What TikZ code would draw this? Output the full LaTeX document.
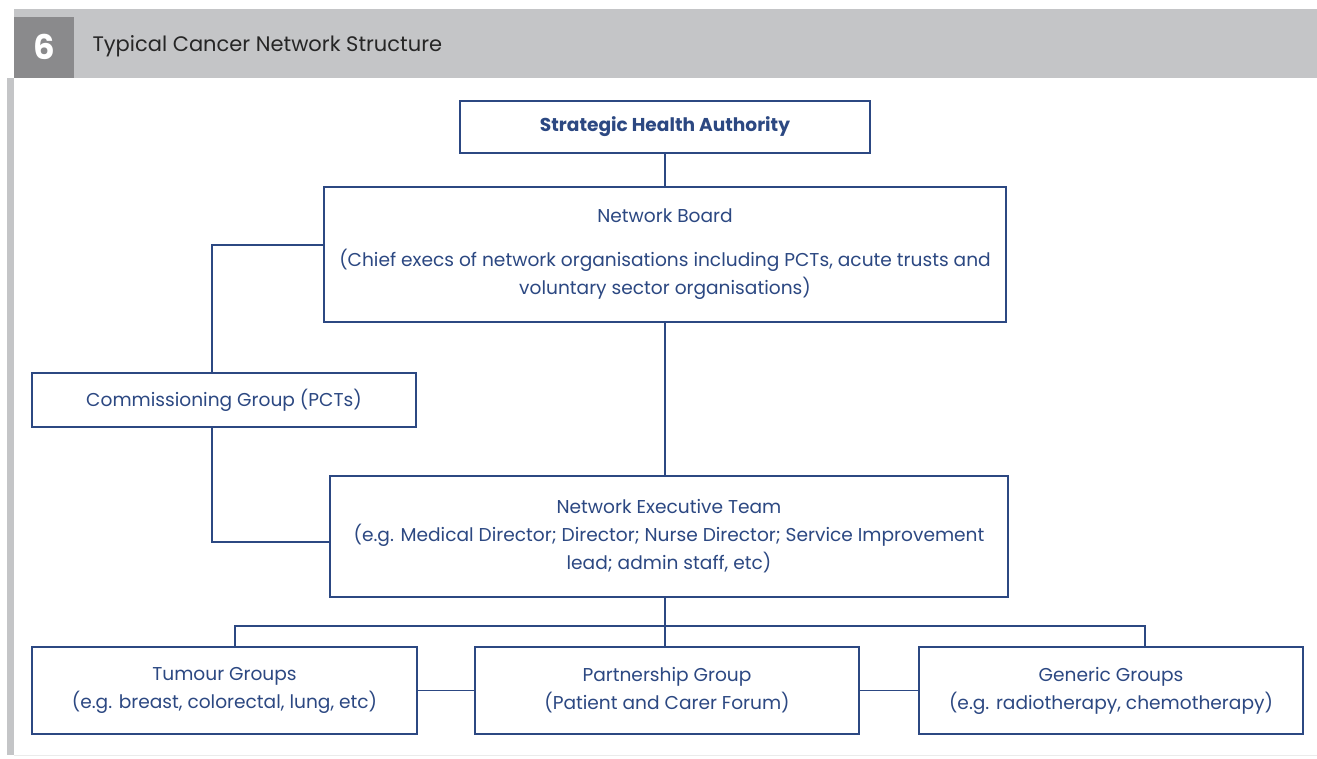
\documentclass[tikz,border=0pt]{standalone}
\usepackage{fontspec}
\setmainfont{Poppins}
\definecolor{nblue}{RGB}{44,72,130}
\definecolor{hdr}{RGB}{196,197,199}
\definecolor{hdrdark}{RGB}{138,138,140}
\begin{document}
\begin{tikzpicture}[x=1pt,y=-1pt,
  box/.style={draw=nblue, line width=1.5pt, text=nblue, align=center, inner sep=0pt, font=\fontsize{18.6}{28}\selectfont},
  link/.style={draw=nblue, line width=1.5pt}]
\useasboundingbox (0,0) rectangle (1317,758);
\fill[white] (0,0) rectangle (1317,758);
\fill[hdr] (14,9) rectangle (1317,78);
\fill[hdrdark] (14,17) rectangle (74,78);
\fill[hdr] (7,78) rectangle (14,755);
\draw[black!8, line width=1pt] (14,755.5) -- (1317,755.5);
\node[text=white, font=\bfseries\fontsize{34}{34}\selectfont] (num) at (44,47) {6};
\node[anchor=west, text=black!85, font=\fontsize{21}{21}\selectfont] (title) at (89,46) {Typical Cancer Network Structure};

\node[box, minimum width=410, minimum height=52] (sha) at (665,127) {\bfseries Strategic Health Authority};
\node[box, minimum width=682, minimum height=135] (nb) at (665,254.5) {Network Board\\[16pt](Chief execs of network organisations including PCTs, acute trusts and\\voluntary sector organisations)};
\node[box, minimum width=384, minimum height=54] (comm) at (224,400) {Commissioning Group (PCTs)};
\node[box, minimum width=678, minimum height=121] (net) at (669,536.5) {Network Executive Team\\(e.g. Medical Director; Director; Nurse Director; Service Improvement\\lead; admin staff, etc)};
\node[box, minimum width=385, minimum height=87] (tum) at (224.5,690.5) {Tumour Groups\\(e.g. breast, colorectal, lung, etc)};
\node[box, minimum width=384, minimum height=87] (part) at (667,690.5) {Partnership Group\\(Patient and Carer Forum)};
\node[box, minimum width=384, minimum height=87] (gen) at (1111,690.5) {Generic Groups\\(e.g. radiotherapy, chemotherapy)};

\coordinate (busc) at (665,626);
\draw[link] (sha.south) -- (nb.north);
\draw[link] (nb.south) -- (nb.south |- net.north);
\draw[link] ([yshift=9.5pt]nb.west) -| ([xshift=-12pt]comm.north);
\draw[link] ([xshift=-12pt]comm.south) |- ([yshift=-5.5pt]net.west);
\draw[link] (busc |- net.south) -- (busc |- part.north);
\draw[link] ([xshift=10.5pt]tum.north) |- (busc) -| ([xshift=34pt]gen.north);
\draw[link] (tum.east) -- (part.west);
\draw[link] (part.east) -- (gen.west);
\end{tikzpicture}
\end{document}
